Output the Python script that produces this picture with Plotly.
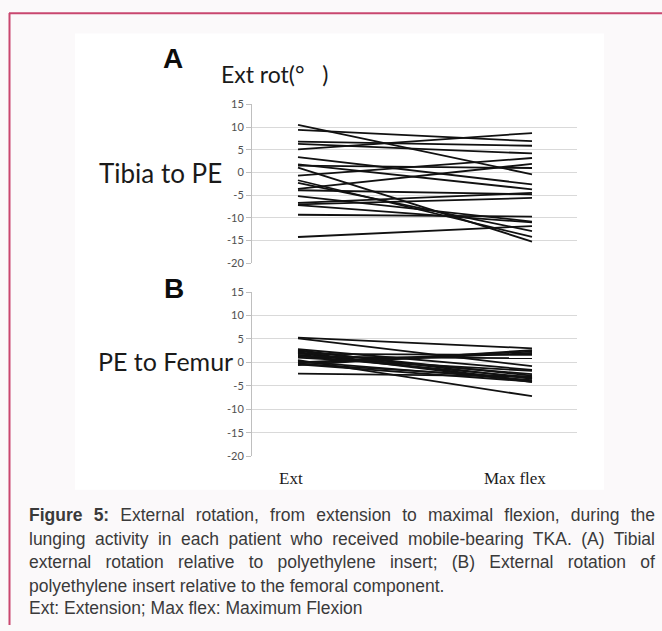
import plotly.graph_objects as go

W, H = 662, 631

# ---------------- data ----------------
categories = ["Ext", "Max flex"]
y_ticks = [15, 10, 5, 0, -5, -10, -15, -20]
y_tick_labels = ["15", "10", "5", "0", "-5", "-10", "-15", "-20"]

# Panel A: Tibia to PE (external rotation, degrees)
tibia_ext = [10.5, 9.4, 6.8, 6.3, 5.1, 3.4, 1.8, 1.5, 1.1, -0.7,
             -1.7, -2.3, -3.6, -3.9, -5.2, -6.7, -7.0, -7.2, -9.3, -14.2]
tibia_flex = [-0.4, 6.9, 5.9, 4.2, 8.7, -2.6, -3.7, 1.0, -15.2, 3.2,
              -14.2, -12.9, 1.9, -4.8, -10.8, -4.5, -5.6, -11.0, -9.7, -11.8]

# Panel B: PE to Femur
femur_ext = [5.3, 5.1, 2.8, 2.6, 2.4, 2.2, 2.0, 1.8, 1.6, 1.4,
             1.2, 1.0, 0.5, 0.2, 0.0, -0.2, -0.3, -0.4, -0.6, -2.4]
femur_flex = [3.0, -0.8, -1.6, -3.5, -2.8, -4.0, -4.2, 1.6, -2.5, -3.2,
              0.9, -1.8, -7.2, -3.8, 2.3, 2.0, -3.3, -4.1, 2.6, -3.0]

panel_letters = ["A", "B"]
panel_labels = ["Tibia to PE", "PE to Femur"]
y_title = "Ext rot(°\u00a0\u00a0\u00a0)"
caption_lines = [
    "<b>Figure 5:</b> External rotation, from extension to maximal flexion, during the",
    "lunging activity in each patient who received mobile-bearing TKA. (A) Tibial",
    "external rotation relative to polyethylene insert; (B) External rotation of",
    "polyethylene insert relative to the femoral component.",
    "Ext: Extension; Max flex: Maximum Flexion",
]


def px(x):
    return x / W


def py(y):
    return 1 - y / H


fig = go.Figure()
for a, b in zip(tibia_ext, tibia_flex):
    fig.add_trace(go.Scatter(x=categories, y=[a, b], mode="lines",
                             line=dict(color="#111111", width=1.8),
                             xaxis="x", yaxis="y", showlegend=False, hoverinfo="skip"))
for a, b in zip(femur_ext, femur_flex):
    fig.add_trace(go.Scatter(x=categories, y=[a, b], mode="lines",
                             line=dict(color="#111111", width=1.8),
                             xaxis="x2", yaxis="y2", showlegend=False, hoverinfo="skip"))

x_left, x_right = 252, 577
x_rng = [-(298 - 252) / 234, 1 + (577 - 532) / 234]

xcommon = dict(type="category", range=x_rng, showgrid=False, showticklabels=False,
               zeroline=False, showline=False, fixedrange=True)
ycommon = dict(range=[-20, 15], tickvals=y_ticks, ticktext=y_tick_labels,
               showgrid=True, gridcolor="#d9d9d9",
               gridwidth=1, zeroline=False, showline=True, linecolor="#bfbfbf", linewidth=1,
               ticks="outside", ticklen=5, tickcolor="#bfbfbf",
               tickfont=dict(family="Lato", size=11, color="#505050"), fixedrange=True)

fig.update_layout(
    width=W, height=H, margin=dict(l=0, r=0, t=0, b=0),
    paper_bgcolor="#fbf9fa", plot_bgcolor="rgba(0,0,0,0)",
    xaxis=dict(domain=[px(x_left), px(x_right)], anchor="y", **xcommon),
    yaxis=dict(domain=[py(261.7), py(99.5)], anchor="x", **ycommon),
    xaxis2=dict(domain=[px(x_left), px(x_right)], anchor="y2", **xcommon),
    yaxis2=dict(domain=[py(458.7), py(291)], anchor="x2", **ycommon),
)

shapes = [
    dict(type="rect", xref="paper", yref="paper", x0=px(75), x1=px(604), y0=py(493), y1=py(27),
         fillcolor="white", line=dict(width=0), layer="below"),
    dict(type="line", xref="paper", yref="paper", x0=px(9), x1=1, y0=py(6.5), y1=py(6.5),
         line=dict(color="#c9476f", width=2)),
    dict(type="line", xref="paper", yref="paper", x0=px(9.5), x1=px(9.5), y0=py(6), y1=0,
         line=dict(color="#c9476f", width=2)),
]
fig.update_layout(shapes=shapes)

ann = []


def add(text, x, y, size, family, color="#1a1a1a", xanchor="center"):
    ann.append(dict(text=text, x=px(x), y=py(y), xref="paper", yref="paper", showarrow=False,
                    xanchor=xanchor, yanchor="middle",
                    font=dict(family=family, size=size, color=color)))


add("<b>%s</b>" % panel_letters[0], 173, 53, 28, "Liberation Sans", "#0d0d0d")
add("<b>%s</b>" % panel_letters[1], 174, 287, 28, "Liberation Sans", "#0d0d0d")
add(y_title, 219, 68, 23, "Lato", xanchor="left")
add(panel_labels[0], 97, 169, 26, "Lato", xanchor="left")
add(panel_labels[1], 96, 361, 25, "Lato", xanchor="left")
add(categories[0], 291, 481, 17, "Liberation Serif")
add(categories[1], 515, 481, 17, "Liberation Serif")

cap_y = [519, 543, 567, 591, 614]
for t, yy in zip(caption_lines, cap_y):
    add(t, 27, yy, 17.5, "Liberation Sans", "#3a3a3a", xanchor="left")

fig.update_layout(annotations=ann)

post = """
var gd = document.getElementById('{plot_id}');
var target = %d;
var els = gd.querySelectorAll('g.annotation text.annotation-text');
var just = %s;
els.forEach(function(el){
  var t = el.textContent;
  for (var i=0;i<just.length;i++){
    if (t.indexOf(just[i]) === 0){
      var b0 = el.getBBox();
      var n = (t.match(/ /g)||[]).length;
      var ws = (target - b0.width)/n;
      el.style.wordSpacing = ws + 'px';
      var b1 = el.getBBox();
      el.setAttribute('transform', 'translate(' + (b0.x - b1.x) + ',0)');
    }
  }
});
""" % (653 - 27, '["Figure 5:", "lunging activity", "external rotation relative"]')

fig.write_html("out.html", post_script=post)
